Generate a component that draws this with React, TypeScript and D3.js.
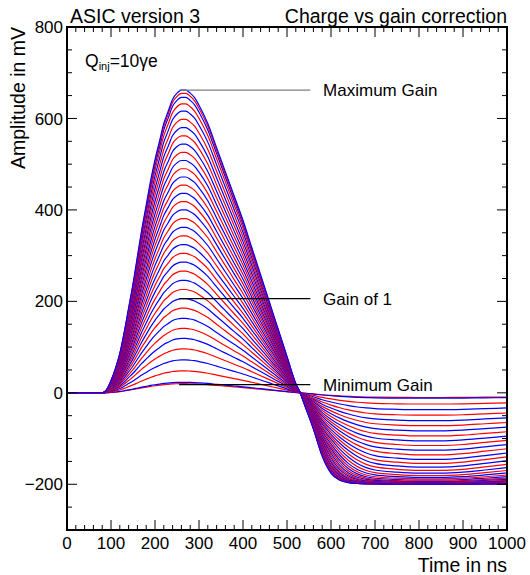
import React from "react";
import * as d3 from "d3";

// Time grid (ns) and the normalised pulse shape
const times = [0, 80, 90, 100, 110, 120, 130, 140, 150, 160, 170, 180, 190, 200, 210, 220, 230, 240, 250, 260, 270, 280, 290, 300, 320, 340, 360, 380, 400, 420, 440, 460, 480, 500, 520, 530, 540, 560, 580, 600, 620, 640, 660, 680, 700, 750, 800, 850, 900, 950, 1000];
const pulseShape = [0, 0, 0.01, 0.04, 0.08, 0.13, 0.2, 0.28, 0.36, 0.45, 0.54, 0.62, 0.7, 0.77, 0.83, 0.89, 0.93, 0.97, 0.99, 1.0, 1.0, 0.99, 0.975, 0.95, 0.89, 0.81, 0.73, 0.65, 0.57, 0.48, 0.39, 0.3, 0.21, 0.12, 0.03, 0.0, -0.04, -0.12, -0.21, -0.28, -0.34, -0.39, -0.43, -0.46, -0.48, -0.5, -0.51, -0.51, -0.5, -0.48, -0.46];

// Peak amplitude (mV) of every gain setting, minimum to maximum
const peakValues = [20, 23, 48, 72, 96, 119, 141, 163, 185, 206, 226, 246, 266, 286, 305, 324, 343, 362, 381, 400, 418, 436, 454, 472, 490, 508, 526, 544, 562, 580, 598, 616, 632, 646, 655, 662];
const colors = ["#ff0000", "#0000ff"];

const xTicks = [0, 100, 200, 300, 400, 500, 600, 700, 800, 900, 1000];
const yTicks = [-200, 0, 200, 400, 600, 800];

const annotations = [
  { label: "Maximum Gain", value: 662, color: "#808080" },
  { label: "Gain of 1", value: 206, color: "#000000" },
  { label: "Minimum Gain", value: 18, color: "#000000" },
];

const W = 530, H = 575;
const M = { left: 67, right: 507, top: 27, bottom: 530 };
const FONT = "'Liberation Sans', Arial, Helvetica, sans-serif";

function saturate(v: number) {
  const s0 = 130, s1 = 70;
  if (v >= -s0) return v;
  return -s0 - s1 * Math.tanh((-v - s0) / s1);
}

export default function App() {
  const x = d3.scaleLinear().domain([0, 1000]).range([M.left, M.right]);
  const y = d3.scaleLinear().domain([-300, 800]).range([M.bottom, M.top]);
  const line = d3.line<[number, number]>().x(d => x(d[0])).y(d => y(d[1])).curve(d3.curveMonotoneX);

  const xMinor = d3.range(0, 1001, 20);
  const yMinor = d3.range(-300, 801, 50);

  return (
    <svg width={W} height={H} style={{ position: "absolute", left: 0, top: 0, background: "#fff" }} fontFamily={FONT}>
      <rect x={0} y={0} width={W} height={H} fill="#fff" />
      <g>
        {peakValues.map((p, i) => {
          const pts: [number, number][] = times.map((t, k) => [t, saturate(p * pulseShape[k])]);
          return <path key={i} d={line(pts) || ""} fill="none" stroke={colors[i % 2]} strokeWidth={1.2} />;
        })}
      </g>
      {annotations.map((a, i) => (
        <g key={i}>
          <line x1={x(255)} x2={x(553)} y1={y(a.value)} y2={y(a.value)} stroke={a.color} strokeWidth={1.2} />
          <text x={x(582)} y={y(a.value)} dy="0.35em" fontSize={17} fill="#000">{a.label}</text>
        </g>
      ))}
      {/* frame */}
      <rect x={M.left} y={M.top} width={M.right - M.left} height={M.bottom - M.top} fill="none" stroke="#000" strokeWidth={2} />
      {/* ticks */}
      {xMinor.map(v => {
        const major = v % 100 === 0;
        const L = major ? 10 : 5;
        return (
          <g key={"x" + v}>
            <line x1={x(v)} x2={x(v)} y1={M.bottom} y2={M.bottom - L} stroke="#000" strokeWidth={1} />
            <line x1={x(v)} x2={x(v)} y1={M.top} y2={M.top + L} stroke="#000" strokeWidth={1} />
          </g>
        );
      })}
      {yMinor.map(v => {
        const major = v % 200 === 0;
        const L = major ? 10 : 5;
        return (
          <g key={"y" + v}>
            <line x1={M.left} x2={M.left + L} y1={y(v)} y2={y(v)} stroke="#000" strokeWidth={1} />
            <line x1={M.right} x2={M.right - L} y1={y(v)} y2={y(v)} stroke="#000" strokeWidth={1} />
          </g>
        );
      })}
      <g fill="#000">
        {xTicks.map(v => (
          <text key={"xl" + v} x={x(v)} y={549} textAnchor="middle" fontSize={17}>{v}</text>
        ))}
        {yTicks.map(v => (
          <text key={"yl" + v} x={63} y={y(v)} dy="0.36em" textAnchor="end" fontSize={17}>{v === -200 ? "\u2212200" : v}</text>
        ))}
        <text x={M.right} y={572} textAnchor="end" fontSize={19.5}>Time in ns</text>
        <text transform={`translate(25,${M.top}) rotate(-90)`} textAnchor="end" fontSize={19.5}>Amplitude in mV</text>
        <text x={70} y={23} fontSize={19.5}>ASIC version 3</text>
        <text x={M.right} y={23} textAnchor="end" fontSize={19.5}>Charge vs gain correction</text>
        <text x={85} y={67} fontSize={17.5} fill="#000">
          Q<tspan fontSize={11} dy={3} fill="#000">inj</tspan><tspan dy={-3} fill="#000">=10γe</tspan>
        </text>
      </g>
    </svg>
  );
}
